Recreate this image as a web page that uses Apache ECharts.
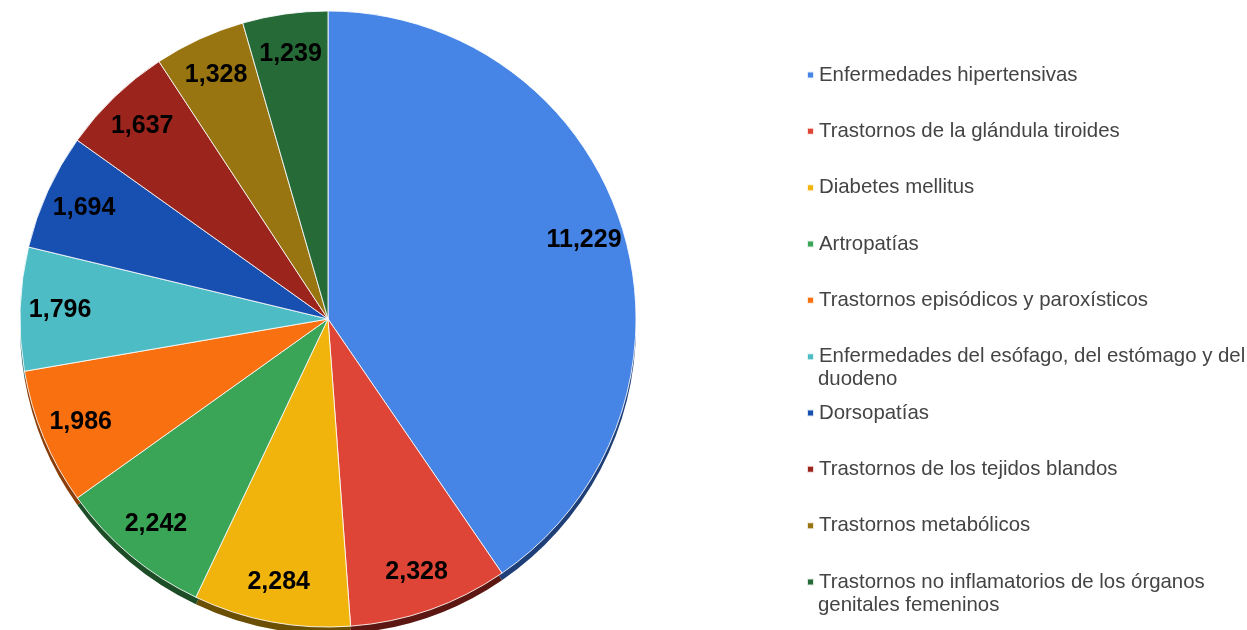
<!DOCTYPE html>
<html>
<head>
<meta charset="utf-8">
<script src="https://cdn.jsdelivr.net/npm/echarts@6/dist/echarts.min.js"></script>
<style>
  html, body { margin: 0; padding: 0; background: #fff; }
  #chart { width: 1247px; height: 630px; }
</style>
</head>
<body>
<div id="chart"></div>
<script>
const categories = [
  "Enfermedades hipertensivas",
  "Trastornos de la glándula tiroides",
  "Diabetes mellitus",
  "Artropatías",
  "Trastornos episódicos y paroxísticos",
  "Enfermedades del esófago, del estómago y del duodeno",
  "Dorsopatías",
  "Trastornos de los tejidos blandos",
  "Trastornos metabólicos",
  "Trastornos no inflamatorios de los órganos genitales femeninos",
];
const values = [11229, 2328, 2284, 2242, 1986, 1796, 1694, 1637, 1328, 1239];

const colors = ["#4684e6", "#df4537", "#f1b40c", "#3ba557", "#f8700f",
  "#4dbcc4", "#1850b2", "#9b241d", "#997511", "#266a38"];
// darker tones for the 3D rim under the pie
const rimColors = ["#1f3f78", "#5c1712", "#6a4f05", "#1d4d27", "#8a3d08",
  "#2a6a6e", "#0d2c63", "#551310", "#544006", "#143a1f"];

const FONT = "Liberation Sans, Arial, sans-serif";
const LEGEND_FONT_SIZE = 20.4;
const WRAP_WIDTH = 440;
const LINE_H = 23;

// split a legend label into lines of at most WRAP_WIDTH px
const measureCtx = document.createElement("canvas").getContext("2d");
measureCtx.font = LEGEND_FONT_SIZE + "px " + FONT;
function wrapLines(text) {
  const lines = [];
  let cur = "";
  text.split(" ").forEach((w) => {
    const next = cur ? cur + " " + w : w;
    if (measureCtx.measureText(next).width > WRAP_WIDTH && cur) {
      lines.push(cur);
      cur = w;
    } else {
      cur = next;
    }
  });
  lines.push(cur);
  return lines;
}

const chart = echarts.init(document.getElementById("chart"));

const center = [328, 319];
const radius = 308;

// one legend per line so wrapped entries keep the regular spacing
const legends = [];
categories.forEach((name, i) => {
  const lines = wrapLines(name);
  lines.forEach((line, k) => {
    legends.push({
      orient: "vertical",
      left: 806,
      top: 75 + i * 56.33 + k * LINE_H - LINE_H / 2,
      padding: 0,
      itemWidth: 7,
      itemHeight: 7,
      icon: k === 0 ? "rect" : "none",
      data: [name],
      formatter: () => line,
      textStyle: {
        fontFamily: FONT,
        fontSize: LEGEND_FONT_SIZE,
        color: "#444",
        lineHeight: LINE_H,
      },
    });
  });
});

const option = {
  animation: false,
  legend: legends,
  series: [
    {
      name: "main",
      type: "pie",
      z: 3,
      silent: true,
      center: center,
      radius: [0, radius],
      startAngle: 90,
      label: { show: false },
      labelLine: { show: false },
      itemStyle: { borderColor: "rgba(255,255,255,0.85)", borderWidth: 1 },
      data: categories.map((name, i) => ({
        name: name,
        value: values[i],
        itemStyle: { color: colors[i] },
      })),
    },
    {
      name: "rim",
      type: "pie",
      z: 1,
      silent: true,
      center: [center[0], center[1] + 7],
      radius: [0, radius],
      startAngle: 90,
      label: { show: false },
      labelLine: { show: false },
      data: categories.map((name, i) => ({
        name: name,
        value: values[i],
        itemStyle: { color: rimColors[i] },
      })),
    },
    {
      name: "labels",
      type: "pie",
      z: 4,
      silent: true,
      center: center,
      radius: [222, 308],
      startAngle: 90,
      itemStyle: { color: "rgba(0,0,0,0)" },
      labelLine: { show: false },
      label: {
        show: true,
        position: "inside",
        fontFamily: FONT,
        fontWeight: "bold",
        fontSize: 25,
        color: "#000",
        formatter: (p) => p.value.toLocaleString("en-US"),
      },
      data: categories.map((name, i) => ({ name: name, value: values[i] })),
    },
  ],
};

chart.setOption(option);
window.addEventListener("resize", () => {
  chart.resize();
});
</script>
</body>
</html>
